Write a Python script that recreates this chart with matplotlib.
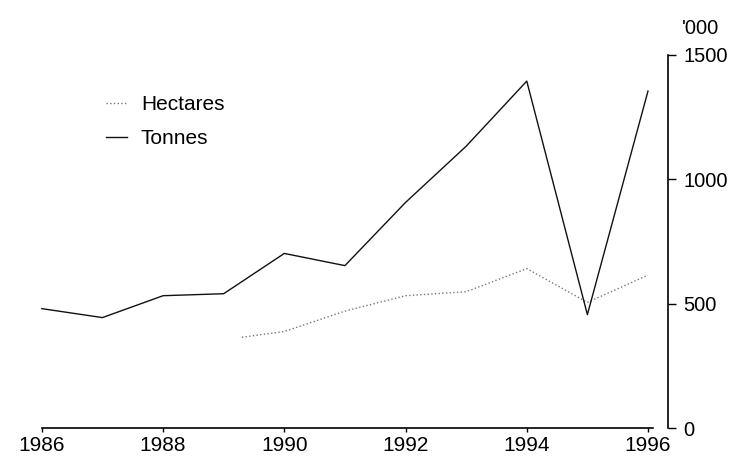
import matplotlib
matplotlib.use("Agg")
import matplotlib.pyplot as plt

plt.rcParams["font.family"] = ["Liberation Sans", "DejaVu Sans"]

years = [1986, 1987, 1988, 1989, 1990, 1991, 1992, 1993, 1994, 1995, 1996]
tonnes = [480, 444, 532, 540, 702, 653, 907, 1133, 1395, 456, 1355]

hect_years = [1989.3, 1990, 1991, 1992, 1993, 1994, 1995, 1996]
hectares = [365, 388, 470, 532, 548, 641, 505, 615]

xticks = [1986, 1988, 1990, 1992, 1994, 1996]
yticks = [0, 500, 1000, 1500]

fig = plt.figure(figsize=(7.44, 4.68), dpi=100)
ax = fig.add_axes([40 / 744, 1 - 428 / 468, 628 / 744, 373 / 468])

ax.plot(hect_years, hectares, color="#777777", linestyle=":", linewidth=1.0, label="Hectares")
ax.plot(years, tonnes, color="#111111", linewidth=1.0, label="Tonnes")

ax.set_xlim(1985.97, 1996.33)
ax.set_ylim(0, 1500)

ax.spines["left"].set_visible(False)
ax.spines["top"].set_visible(False)
ax.spines["right"].set_linewidth(1.2)
ax.spines["bottom"].set_linewidth(1.2)
ax.spines["bottom"].set_bounds(1986, 1996.08)

ax.yaxis.tick_right()
ax.set_yticks(yticks)
ax.tick_params(axis="y", direction="out", length=6, width=1, pad=5, labelsize=14.5)
ax.set_xticks(xticks)
ax.tick_params(axis="x", direction="out", length=3, width=1, pad=3, labelsize=15)

fig.text(682 / 744, 1 - 28 / 468, "'000", fontsize=14.5, va="center", ha="left")

leg = ax.legend(loc="upper left", bbox_to_anchor=(0.076, 0.942), frameon=False,
                fontsize=15, handlelength=1.0, handletextpad=0.65, labelspacing=0.72)

fig.savefig("out.png", dpi=100)
